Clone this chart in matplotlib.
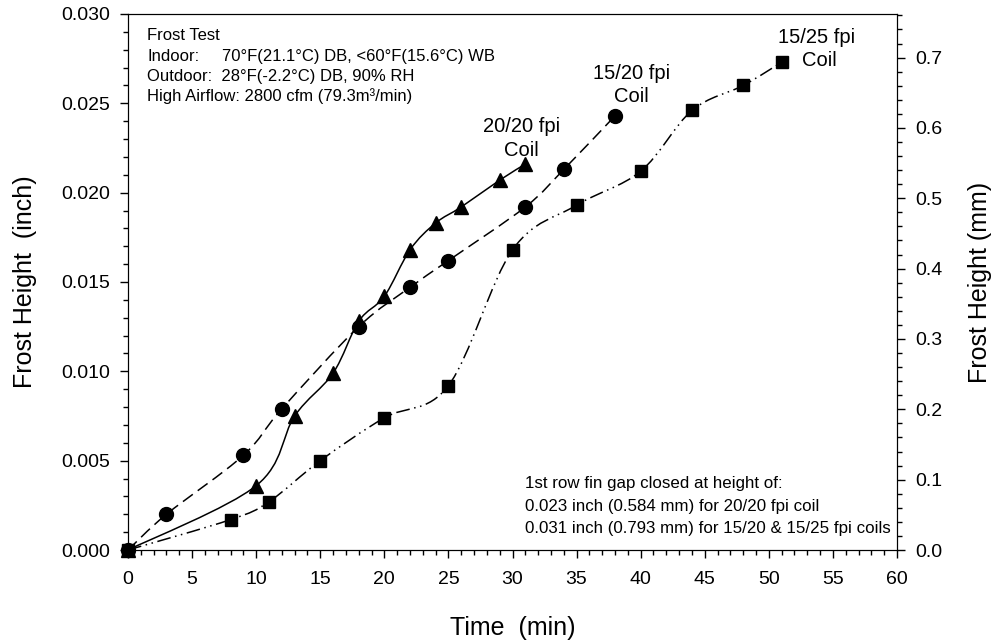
import numpy as np
import matplotlib
matplotlib.use("Agg")
import matplotlib.pyplot as plt
from matplotlib.path import Path
from matplotlib.patches import PathPatch
from matplotlib.ticker import MultipleLocator, FormatStrFormatter

plt.rcParams['font.family'] = ['Liberation Sans', 'DejaVu Sans']

# data (time in min, frost height in inch)
t_2020 = [0, 10, 13, 16, 18, 20, 22, 24, 26, 29, 31]
h_2020 = [0, 0.0036, 0.0075, 0.0099, 0.0128, 0.0142, 0.0168, 0.0183, 0.0192, 0.0207, 0.0216]

t_1520 = [0, 3, 9, 12, 18, 22, 25, 31, 34, 38]
h_1520 = [0, 0.0020, 0.0053, 0.0079, 0.0125, 0.0147, 0.0162, 0.0192, 0.0213, 0.0243]

t_1525 = [0, 8, 11, 15, 20, 25, 30, 35, 40, 44, 48, 51]
h_1525 = [0, 0.0017, 0.0027, 0.0050, 0.0074, 0.0092, 0.0168, 0.0193, 0.0212, 0.0246, 0.0260, 0.0273]


def smooth_path(x, y):
    # Catmull-Rom spline through the points, drawn as cubic bezier segments
    p = np.column_stack([x, y]).astype(float)
    ext = np.vstack([p[0], p, p[-1]])
    verts = [p[0]]
    codes = [Path.MOVETO]
    for i in range(len(p) - 1):
        p0, p1, p2, p3 = ext[i], ext[i + 1], ext[i + 2], ext[i + 3]
        verts += [p1 + (p2 - p0) / 6, p2 - (p3 - p1) / 6, p2]
        codes += [Path.CURVE4] * 3
    return Path(verts, codes)


fig = plt.figure(figsize=(9.97, 6.42), dpi=100)
ax = fig.add_axes([0.1284, 0.1433, 0.7713, 0.8349])

series = [
    (t_2020, h_2020, '^', 10.5, '-'),
    (t_1520, h_1520, 'o', 10, (0, (8, 4))),
    (t_1525, h_1525, 's', 9, (0, (9, 3, 1, 3, 1, 3))),
]
for t, h, mk, ms, ls in series:
    patch = PathPatch(smooth_path(t, h), fill=False, edgecolor='black',
                      linewidth=1.1, linestyle=ls, zorder=2)
    ax.add_patch(patch)
    ax.plot(t, h, linestyle='none', marker=mk, markersize=ms,
            color='black', zorder=3, clip_on=False)

ax.set_xlim(0, 60)
ax.set_ylim(0, 0.030)
ax.xaxis.set_major_locator(MultipleLocator(5))
ax.xaxis.set_minor_locator(MultipleLocator(1))
ax.yaxis.set_major_locator(MultipleLocator(0.005))
ax.yaxis.set_minor_locator(MultipleLocator(0.001))
ax.yaxis.set_major_formatter(FormatStrFormatter('%.3f'))
ax.tick_params(which='both', direction='out', top=False, right=False)
ax.tick_params(which='major', length=6, width=1)
ax.tick_params(which='minor', length=3.5, width=1)
ax.tick_params(axis='x', which='major', labelsize=14, pad=9)
ax.tick_params(axis='y', which='major', labelsize=14, pad=7)

ax.set_xlabel('Time  (min)', fontsize=18)
ax.set_ylabel('Frost Height  (inch)', fontsize=18)
ax.xaxis.set_label_coords(0.5, -0.124)
ax.yaxis.set_label_coords(-0.118, 0.5)

ax2 = ax.twinx()
ax2.set_ylim(0, 0.030 * 25.4)
ax2.yaxis.set_major_locator(MultipleLocator(0.1))
ax2.yaxis.set_minor_locator(MultipleLocator(0.02))
ax2.yaxis.set_major_formatter(FormatStrFormatter('%.1f'))
ax2.tick_params(which='both', direction='out')
ax2.tick_params(which='major', length=6, width=1, labelsize=14, pad=7)
ax2.tick_params(which='minor', length=3.5, width=1)
ax2.set_ylabel('Frost Height (mm)', fontsize=18)
ax2.yaxis.set_label_coords(1.092, 0.5)

# coil labels
ax.text(30.7, 0.02339, '20/20 fpi', fontsize=14.5, ha='center', va='baseline')
ax.text(30.7, 0.02207, 'Coil', fontsize=14.5, ha='center', va='baseline')
ax.text(39.3, 0.02636, '15/20 fpi', fontsize=14.5, ha='center', va='baseline')
ax.text(39.3, 0.02509, 'Coil', fontsize=14.5, ha='center', va='baseline')
ax.text(53.75, 0.02839, '15/25 fpi', fontsize=14.5, ha='center', va='baseline')
ax.text(53.96, 0.0271, 'Coil', fontsize=14.5, ha='center', va='baseline')

# test conditions
fs = 12
tr = ax.transAxes
ax.text(0.0247, 0.951, 'Frost Test', fontsize=fs, transform=tr, va='baseline')
ax.text(0.0247, 0.913, 'Indoor:', fontsize=fs, transform=tr, va='baseline')
ax.text(0.122, 0.913, '70°F(21.1°C) DB, <60°F(15.6°C) WB',
        fontsize=fs, transform=tr, va='baseline')
ax.text(0.0247, 0.875, 'Outdoor:  28°F(-2.2°C) DB, 90% RH',
        fontsize=fs, transform=tr, va='baseline')
ax.text(0.0247, 0.837, 'High Airflow: 2800 cfm (79.3m³/min)',
        fontsize=fs, transform=tr, va='baseline')

fs2 = 12.2
ax.text(0.516, 0.115, '1st row fin gap closed at height of:', fontsize=fs2,
        transform=tr, va='baseline')
ax.text(0.516, 0.0733, '0.023 inch (0.584 mm) for 20/20 fpi coil', fontsize=fs2,
        transform=tr, va='baseline')
ax.text(0.516, 0.0312, '0.031 inch (0.793 mm) for 15/20 & 15/25 fpi coils', fontsize=fs2,
        transform=tr, va='baseline')

fig.savefig('out.png', dpi=100)
